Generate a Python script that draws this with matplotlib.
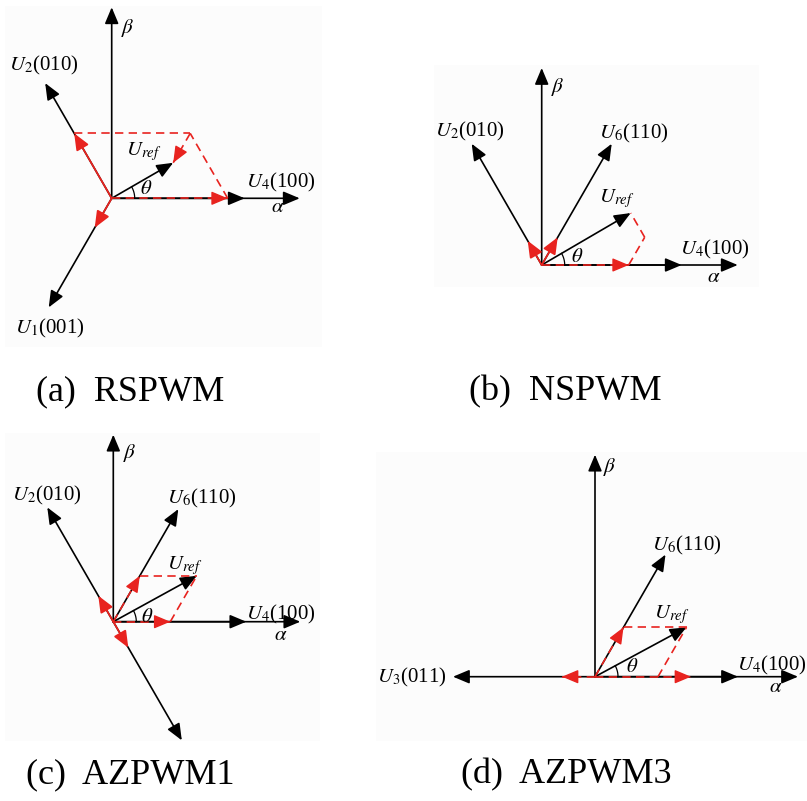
import numpy as np
import matplotlib.pyplot as plt
from matplotlib.patches import FancyArrowPatch, Rectangle

plt.rcParams['font.family'] = ['Liberation Serif', 'DejaVu Serif']
plt.rcParams['mathtext.fontset'] = 'stix'

RED = '#e8231f'

# space vectors: direction in degrees
angles = {'U4': 0, 'U6': 60, 'U2': 120, 'U3': 180, 'U1': 240, 'U5': 300}

# one entry per panel (a)..(d), pixel units of the figure
origins = [(111.7, 198.3), (541.7, 265.0), (113.3, 621.7), (595.0, 676.7)]
alpha_len = [188, 196, 187, 203]
beta_len = [191, 197, 187, 222]
# black active vectors (name, length)
black_vectors = [
    [('U4', 133), ('U2', 133), ('U1', 126)],
    [('U4', 140), ('U6', 140), ('U2', 140)],
    [('U4', 133), ('U6', 130), ('U2', 132), ('U5', 137)],
    [('U4', 143), ('U6', 141), ('U3', 142)],
]
# components that build U_ref (length along each vector)
uref_parts = [
    [('U4', 116), ('U2', 75), ('U1', 34)],
    [('U4', 87), ('U6', 32), ('U2', 28)],
    [('U4', 57), ('U6', 53)],
    [('U4', 63), ('U6', 57)],
]
# red segments: (start offsets from origin, vector, length, dashed, head)
red_segments = [
    [([], 'U2', 75, False, True),
     ([('U2', 75)], 'U4', 116, True, False),
     ([('U2', 75), ('U4', 116)], 'U1', 34, True, True),
     ([('U4', 116)], 'U2', 75, True, False),
     ([], 'U4', 116, True, True),
     ([], 'U1', 34, False, True)],
    [([], 'U4', 87, True, True),
     ([('U4', 87)], 'U6', 32, True, False),
     ([('U4', 87), ('U6', 32)], 'U2', 28, True, False),
     ([], 'U2', 28, False, True),
     ([], 'U6', 32, False, True)],
    [([], 'U4', 57, True, True),
     ([], 'U6', 53, True, True),
     ([('U4', 57)], 'U6', 53, True, False),
     ([('U6', 53)], 'U4', 57, True, False),
     ([], 'U2', 30, False, True),
     ([], 'U5', 30, False, True)],
    [([], 'U4', 96, True, True),
     ([], 'U3', 33, True, True),
     ([], 'U6', 57, True, True),
     ([('U4', 63)], 'U6', 57, True, False),
     ([('U6', 57)], 'U4', 63, True, False)],
]
captions = ['(a)  RSPWM', '(b)  NSPWM', '(c)  AZPWM1', '(d)  AZPWM3']

# text labels (text, x, y)
labels = [
    [(r'$\beta$', 121, 28), (r'$U_2$(010)', 9, 65), (r'$U_{ref}$', 126, 152),
     (r'$U_4$(100)', 246, 182), (r'$\alpha$', 271, 208), (r'$\theta$', 140, 190),
     (r'$U_1$(001)', 15, 328)],
    [(r'$\beta$', 551, 87), (r'$U_2$(010)', 435, 131), (r'$U_6$(110)', 599, 133),
     (r'$U_{ref}$', 599, 199), (r'$\theta$', 571, 257), (r'$U_4$(100)', 680, 249),
     (r'$\alpha$', 707, 277)],
    [(r'$\beta$', 123, 453), (r'$U_2$(010)', 12, 495), (r'$U_6$(110)', 167, 498),
     (r'$U_{ref}$', 167, 566), (r'$\theta$', 141, 617), (r'$U_4$(100)', 246, 614),
     (r'$\alpha$', 274, 635)],
    [(r'$\beta$', 603, 467), (r'$U_6$(110)', 652, 545), (r'$U_{ref}$', 654, 615),
     (r'$\theta$', 626, 668), (r'$U_4$(100)', 737, 665), (r'$\alpha$', 769, 688),
     (r'$U_3$(011)', 377, 677)],
]
caption_pos = [(36, 392), (469, 392), (26, 775), (461, 775)]
panel_boxes = [(5, 6, 322, 347), (434, 65, 759, 287), (5, 433, 320, 741), (376, 452, 807, 741)]


def unit(name):
    a = np.radians(angles[name])
    return np.array([np.cos(a), -np.sin(a)])   # y axis points down


def point(o, parts):
    p = np.array(o, dtype=float)
    for name, length in parts:
        p = p + length * unit(name)
    return p


def arrow(ax, p0, p1, color='black', lw=1.2, z=2):
    ax.add_patch(FancyArrowPatch(tuple(p0), tuple(p1),
                                 arrowstyle='-|>,head_length=1.0,head_width=0.42',
                                 mutation_scale=10, color=color, lw=lw,
                                 shrinkA=0, shrinkB=0, zorder=z))


fig = plt.figure(figsize=(8.07, 8.01), dpi=100)
ax = fig.add_axes([0, 0, 1, 1])
ax.set_xlim(0, 807)
ax.set_ylim(801, 0)
ax.axis('off')

for i in range(4):
    x0, y0, x1, y1 = panel_boxes[i]
    ax.add_patch(Rectangle((x0, y0), x1 - x0, y1 - y0, color='#fcfcfc', lw=0, zorder=0))
    o = np.array(origins[i])
    # alpha / beta axes
    arrow(ax, o, point(o, [('U4', alpha_len[i])]))
    arrow(ax, o, o + np.array([0, -beta_len[i]]))
    for name, length in black_vectors[i]:
        arrow(ax, o, point(o, [(name, length)]))
    tip = point(o, uref_parts[i])
    arrow(ax, o, tip)
    # theta arc
    d = tip - o
    th = np.arctan2(-d[1], d[0])
    t = np.linspace(0, th, 30)
    r = 23
    ax.plot(o[0] + r * np.cos(t), o[1] - r * np.sin(t), color='black', lw=0.9, zorder=2)
    # red decomposition
    for start, name, length, dashed, head in red_segments[i]:
        p0 = point(o, start)
        p1 = p0 + length * unit(name)
        if dashed:
            ax.plot([p0[0], p1[0]], [p0[1], p1[1]], color=RED, lw=1.2,
                    dashes=(5, 3.2), zorder=3)
            if head:
                arrow(ax, p1 - 14 * unit(name), p1, color=RED, lw=1.0, z=4)
        else:
            if head:
                arrow(ax, p0, p1, color=RED, lw=1.3, z=4)
            else:
                ax.plot([p0[0], p1[0]], [p0[1], p1[1]], color=RED, lw=1.3, zorder=3)
    for text, x, y in labels[i]:
        ax.text(x, y, text, fontsize=15, ha='left', va='center', zorder=5)
    ax.text(caption_pos[i][0], caption_pos[i][1], captions[i], fontsize=26,
            ha='left', va='center')

fig.savefig('out.png', dpi=100)
